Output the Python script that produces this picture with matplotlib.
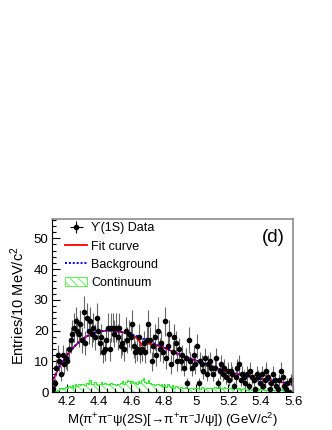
import numpy as np
import matplotlib
matplotlib.use('Agg')
import matplotlib.pyplot as plt
import matplotlib.patches as mpatches
from matplotlib.lines import Line2D
from matplotlib.ticker import MultipleLocator, FixedLocator, FixedFormatter

plt.rcParams['font.family'] = ['Liberation Sans', 'DejaVu Sans']
plt.rcParams['mathtext.fontset'] = 'custom'
plt.rcParams['mathtext.rm'] = 'Liberation Sans'
plt.rcParams['mathtext.it'] = 'Liberation Sans'
plt.rcParams['mathtext.default'] = 'regular'
plt.rcParams['hatch.linewidth'] = 0.7

# 10 MeV bins from 4.11 to 5.60 GeV
bin_lo = 4.11
bin_w = 0.01

data_counts = [
    1, 3, 8, 12, 10, 6, 12, 9, 11,
    10, 14, 17, 19, 21, 23, 20, 19, 22, 17,
    26, 16, 24, 20, 23, 19, 21, 18, 24, 20,
    16, 18, 13, 14, 17, 21, 14, 21, 21, 19,
    21, 18, 21, 15, 16, 14, 20, 17, 19, 18,
    22, 15, 13, 14, 18, 13, 14, 16, 13, 17,
    22, 17, 10, 15, 18, 12, 20, 14, 16, 13,
    23, 11, 15, 19, 9, 13, 18, 16, 10, 14,
    10, 12, 8, 11, 3, 17, 10, 8, 12, 9,
    15, 3, 10, 9, 7, 11, 6, 9, 10, 8,
    6, 8, 11, 3, 7, 9, 6, 8, 5, 7,
    4, 7, 6, 2, 5, 8, 9, 4, 6, 5,
    3, 6, 2, 7, 5, 4, 1, 6, 5, 3,
    6, 2, 4, 7, 5, 1, 3, 6, 4, 2,
    1, 4, 7, 5, 2, 1, 3, 0, 4, 4,
]

continuum = [
    0.5, 0.5, 0.3, 0.8, 1.0, 1.2, 1.0, 1.5, 1.8,
    1.5, 2.0, 1.8, 2.2, 1.5, 2.5, 2.0, 2.8, 2.2, 2.5,
    2.8, 2.2, 3.0, 2.5, 3.8, 2.8, 2.5, 3.2, 2.8, 2.2,
    2.5, 3.2, 2.8, 3.0, 2.5, 2.8, 2.2, 3.0, 2.8, 2.5,
    2.2, 2.8, 2.5, 3.0, 3.5, 2.8, 3.2, 4.0, 3.5, 3.0,
    3.5, 3.0, 3.2, 2.8, 3.5, 3.0, 4.0, 4.5, 3.2, 3.0,
    3.8, 3.0, 2.8, 2.5, 2.2, 2.8, 2.5, 2.2, 2.5, 2.0,
    2.2, 1.8, 2.5, 2.0, 1.8, 2.2, 1.5, 2.0, 1.8, 1.5,
    1.8, 1.5, 1.2, 1.8, 1.5, 1.2, 1.5, 1.2, 1.0, 1.5,
    1.2, 1.5, 1.0, 1.8, 1.2, 1.0, 1.5, 1.2, 1.5, 1.0,
    1.2, 1.8, 1.5, 1.2, 2.0, 1.5, 1.2, 1.8, 1.5, 1.2,
    1.5, 1.2, 1.0, 1.5, 1.2, 1.0, 1.2, 0.8, 1.0, 1.2,
    1.0, 0.8, 1.2, 1.0, 0.8, 1.0, 0.8, 1.2, 0.8, 1.0,
    0.8, 1.0, 0.6, 0.8, 1.2, 0.8, 1.0, 0.6, 0.8, 0.6,
    0.8, 0.6, 0.8, 1.0, 0.6, 0.8, 0.5, 0.8, 0.6, 0.5,
]

curve_x = [4.11, 4.15, 4.20, 4.25, 4.30, 4.35, 4.40, 4.45, 4.50, 4.55, 4.60,
           4.625, 4.65, 4.665, 4.68, 4.70, 4.75, 4.80, 4.85, 4.90, 4.95, 5.00,
           5.05, 5.10, 5.15, 5.20, 5.25, 5.30, 5.35, 5.40, 5.45, 5.50, 5.55, 5.60]
fit_y = [3.3, 7.8, 11.8, 15.0, 17.4, 18.9, 19.7, 20.0, 19.9, 19.4, 18.6,
         17.9, 16.6, 15.2, 15.5, 15.8, 15.4, 14.5, 13.3, 12.2, 11.2, 10.3,
         9.3, 8.4, 7.4, 6.5, 5.9, 5.3, 4.8, 4.4, 4.0, 3.5, 3.0, 2.4]
bkg_y = [3.3, 7.8, 11.8, 15.0, 17.4, 18.9, 19.7, 20.0, 19.9, 19.4, 18.8,
         18.4, 17.9, 17.5, 17.2, 16.8, 15.6, 14.5, 13.3, 12.2, 11.2, 10.3,
         9.3, 8.4, 7.4, 6.5, 5.9, 5.3, 4.8, 4.4, 4.0, 3.5, 3.0, 2.4]

counts = np.array(data_counts, dtype=float)
nb = len(counts)
edges = bin_lo + bin_w * np.arange(nb + 1)
centers = 0.5 * (edges[:-1] + edges[1:])
err = np.sqrt(counts)

fig = plt.figure(figsize=(3.32, 4.30), dpi=100)
ax = fig.add_axes([0.157, 0.088, 0.726, 0.403])

hatch_col = '#66ee66'
line_col = '#33ee33'
cont = np.append(continuum, continuum[-1])
ax.fill_between(edges, 0, cont, step='post', facecolor='none',
                edgecolor=hatch_col, hatch='\\\\\\\\', linewidth=0)
ax.step(edges, cont, where='post', color=line_col, lw=0.8)

ax.errorbar(centers, counts, yerr=err, xerr=bin_w / 2, fmt='o', color='black',
            ecolor='0.4', elinewidth=0.8, markersize=3.0, capsize=0)

ax.plot(curve_x, fit_y, color='red', lw=1.3)
ax.plot(curve_x, bkg_y, color='blue', lw=1.4, ls=(0, (1, 1)))

h_data = ax.errorbar([], [], yerr=[], xerr=[], fmt='o', color='black', markersize=3.0,
                     elinewidth=0.8, capsize=0)
h_fit = Line2D([], [], color='red', lw=1.3)
h_bkg = Line2D([], [], color='blue', lw=1.4, ls=(0, (1, 1)))
h_cont = mpatches.Patch(facecolor='none', edgecolor=hatch_col, hatch='\\\\\\\\', lw=0.8)
ax.legend([h_data, h_fit, h_bkg, h_cont],
          ['\u03d2(1S) Data', 'Fit curve', 'Background', 'Continuum'],
          loc='upper left', bbox_to_anchor=(0.055, 0.98), frameon=False,
          fontsize=9.0, handlelength=1.75, handletextpad=0.3,
          labelspacing=0.5, borderaxespad=0, borderpad=0)

ax.text(0.965, 0.94, '(d)', transform=ax.transAxes, ha='right', va='top', fontsize=13.5)

ax.set_xlim(4.11, 5.60)
ax.set_ylim(0, 56.3)
ax.xaxis.set_major_locator(FixedLocator([4.2, 4.4, 4.6, 4.8, 5.0, 5.2, 5.4, 5.6]))
ax.xaxis.set_major_formatter(FixedFormatter(['4.2', '4.4', '4.6', '4.8', '5', '5.2', '5.4', '5.6']))
ax.xaxis.set_minor_locator(MultipleLocator(0.05))
ax.yaxis.set_major_locator(MultipleLocator(10))
ax.yaxis.set_minor_locator(MultipleLocator(2))
ax.tick_params(which='both', direction='in', top=False, right=False, labelsize=9.5, width=0.8)
ax.tick_params(which='major', length=6)
ax.tick_params(which='minor', length=3)
ax.tick_params(axis='x', pad=3)
ax.tick_params(axis='y', pad=2.5)

for s in ['top', 'right']:
    ax.spines[s].set_color('0.55')
    ax.spines[s].set_linewidth(1.2)
for s in ['left', 'bottom']:
    ax.spines[s].set_linewidth(0.8)

ax.set_ylabel('Entries/10 MeV/c$^{2}$', fontsize=10.5, labelpad=5)
ax.set_xlabel('M($\\pi^{+}\\pi^{-}\\psi$(2S)[\u2192$\\pi^{+}\\pi^{-}$J/$\\psi$]) (GeV/c$^{2}$)',
              fontsize=9.5, labelpad=2)

fig.savefig('out.png', dpi=100)
